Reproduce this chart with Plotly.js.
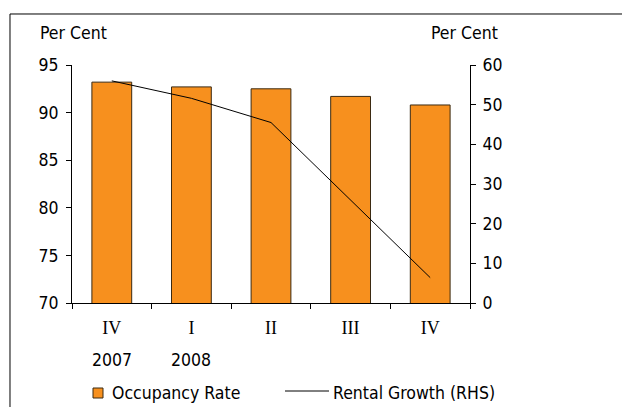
<!DOCTYPE html>
<html>
<head>
<meta charset="utf-8">
<script src="https://cdn.plot.ly/plotly-3.0.1.min.js"></script>
<style>html,body{margin:0;padding:0;background:#fff;}#chart{width:622px;height:407px;}</style>
</head>
<body>
<div id="chart"></div>
<script>
var categories = ["IV 2007", "I 2008", "II 2008", "III 2008", "IV 2008"];
var quarterLabels = ["IV", "I", "II", "III", "IV"];
var yearLabels = ["2007", "2008", "", "", ""];
var occupancyRate = [93.2, 92.7, 92.5, 91.7, 90.8];
var rentalGrowth = [56.0, 51.6, 45.5, 26.0, 6.4];
var seriesNames = ["Occupancy Rate", "Rental Growth (RHS)"];

var font = "DejaVu Sans Condensed, DejaVu Sans, sans-serif";
var fs = 17.5;
var barColor = "#F7901E";
var barEdge = "#3b2a12";

var traces = [
  {
    type: "bar", x: categories, y: occupancyRate, name: seriesNames[0],
    marker: {color: barColor, line: {color: barEdge, width: 1}},
    yaxis: "y"
  },
  {
    type: "scatter", mode: "lines", x: categories, y: rentalGrowth, name: seriesNames[1],
    line: {color: "#000000", width: 1}, yaxis: "y2"
  }
];

// pixel -> paper helpers (plot area: x 72..470, y 65..303)
function px(x) { return (x - 72) / 398; }
function py(y) { return (303 - y) / 238; }

var annotations = [
  {text: "Per Cent", xref: "paper", yref: "paper", x: -0.086, y: 1.135, xanchor: "left", yanchor: "middle", showarrow: false, font: {family: font, size: fs, color: "#000"}},
  {text: "Per Cent", xref: "paper", yref: "paper", x: 1.0754, y: 1.135, xanchor: "right", yanchor: "middle", showarrow: false, font: {family: font, size: fs, color: "#000"}},
  {text: seriesNames[0], xref: "paper", yref: "paper", x: px(110), y: py(393), xanchor: "left", yanchor: "middle", showarrow: false, font: {family: font, size: fs, color: "#000"}},
  {text: seriesNames[1], xref: "paper", yref: "paper", x: px(331), y: py(393), xanchor: "left", yanchor: "middle", showarrow: false, font: {family: font, size: fs, color: "#000"}}
];
for (var i = 0; i < categories.length; i++) {
  if (yearLabels[i]) {
    annotations.push({text: yearLabels[i], xref: "x", yref: "paper", x: categories[i], y: -0.24, xanchor: "center", yanchor: "middle", showarrow: false, font: {family: font, size: fs, color: "#000"}});
  }
}

var layout = {
  width: 622, height: 407,
  margin: {l: 72, r: 152, t: 65, b: 104, autoexpand: false},
  paper_bgcolor: "#fff", plot_bgcolor: "#fff",
  showlegend: false,
  bargap: 0.5,
  font: {family: font, size: fs, color: "#000"},
  xaxis: {
    type: "category", tickmode: "array", tickvals: categories, ticktext: quarterLabels,
    tickfont: {family: "Liberation Serif, serif", size: 18, color: "#000"},
    showline: true, linecolor: "#000", linewidth: 1,
    ticks: "outside", ticklen: 5, tickcolor: "#000", tickson: "boundaries",
    ticklabelstandoff: 8,
    showgrid: false, zeroline: false
  },
  yaxis: {
    range: [70, 95], dtick: 5, tick0: 70,
    showline: true, linecolor: "#000", linewidth: 1,
    ticks: "outside", ticklen: 5, tickcolor: "#000",
    ticklabelstandoff: 4,
    showgrid: false, zeroline: false,
    tickfont: {family: font, size: fs, color: "#000"}
  },
  yaxis2: {
    overlaying: "y", side: "right", range: [0, 60], dtick: 10, tick0: 0,
    showline: true, linecolor: "#000", linewidth: 1,
    ticks: "outside", ticklen: 5, tickcolor: "#000",
    ticklabelstandoff: 3,
    showgrid: false, zeroline: false,
    tickfont: {family: font, size: fs, color: "#000"}
  },
  annotations: annotations,
  shapes: [
    {type: "rect", xref: "paper", yref: "paper", x0: -0.1558, x1: 2, y0: -1, y1: 1.2143, line: {color: "#000", width: 1}, fillcolor: "rgba(0,0,0,0)", layer: "below"},
    {type: "rect", xref: "paper", yref: "paper", x0: px(93), x1: px(103), y0: py(398), y1: py(388), line: {color: barEdge, width: 1}, fillcolor: barColor},
    {type: "line", xref: "paper", yref: "paper", x0: px(285), x1: px(329), y0: py(391), y1: py(391), line: {color: "#000", width: 1}}
  ]
};

Plotly.newPlot("chart", traces, layout, {displayModeBar: false, staticPlot: true});
</script>
</body>
</html>
